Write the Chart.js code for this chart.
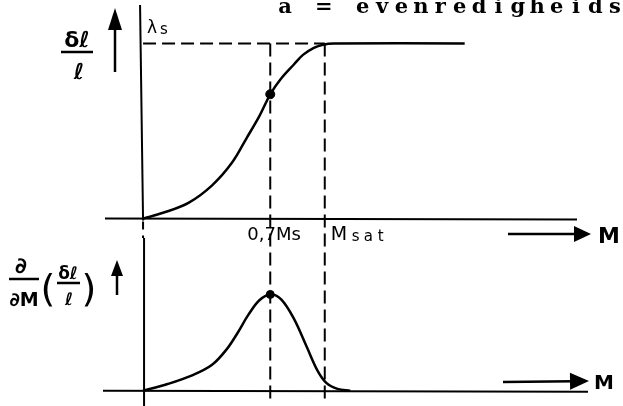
<!DOCTYPE html>
<html>
<head>
<meta charset="utf-8">
<script src="https://cdn.jsdelivr.net/npm/chart.js@4.4.1/dist/chart.umd.min.js"></script>
<style>
  html, body { margin: 0; padding: 0; background: #fff; }
  #wrap { width: 623px; height: 406px; }
</style>
</head>
<body>
<div id="wrap"><canvas id="grafiek" width="623" height="406"></canvas></div>
<script>
// M uitgedrukt in Ms; rek genormeerd op lambda_s, afgeleide genormeerd op het maximum
var mRek = [0, 0.11, 0.25, 0.38, 0.49, 0.57, 0.64, 0.7, 0.76, 0.83, 0.88, 0.94, 0.99, 1.05, 1.77];
var rek = [0, 0.033, 0.09, 0.19, 0.32, 0.46, 0.585, 0.71, 0.8, 0.88, 0.935, 0.975, 0.993, 1.0, 1.0];
var mAfgeleide = [0, 0.135, 0.27, 0.38, 0.46, 0.52, 0.58, 0.64, 0.7, 0.76, 0.83, 0.9, 0.96, 1.01, 1.07, 1.14];
var afgeleide = [0, 0.07, 0.16, 0.27, 0.43, 0.6, 0.79, 0.94, 1.0, 0.95, 0.75, 0.46, 0.21, 0.08, 0.02, 0];
var lambdaS = 1.0;
var mKnik = 0.7;
var mSat = 1.0;
var puntRek = 0.71;
var puntAfgeleide = 1.0;
var tickLabels = ['0,7Ms', 'M', 'sat'];
var titel = 'a = evenredigheids';

var xMin = -0.757, xMax = 2.611;
var yMin = -1.039, yMax = 1.217;
var y2Min = -0.101, y2Max = 4.0;

function punten(xs, ys) {
  return xs.map(function(x, i) { return { x: x, y: ys[i] }; });
}

function pijl(ctx, x1, y1, x2, y2, kop, breed) {
  var hoek = Math.atan2(y2 - y1, x2 - x1);
  ctx.beginPath();
  ctx.moveTo(x1, y1);
  ctx.lineTo(x2 - Math.cos(hoek) * kop * 0.8, y2 - Math.sin(hoek) * kop * 0.8);
  ctx.stroke();
  ctx.beginPath();
  ctx.moveTo(x2, y2);
  ctx.lineTo(x2 - Math.cos(hoek) * kop - Math.sin(hoek) * breed / 2, y2 - Math.sin(hoek) * kop + Math.cos(hoek) * breed / 2);
  ctx.lineTo(x2 - Math.cos(hoek) * kop + Math.sin(hoek) * breed / 2, y2 - Math.sin(hoek) * kop - Math.cos(hoek) * breed / 2);
  ctx.closePath();
  ctx.fill();
}

function lijn(ctx, x1, y1, x2, y2) {
  ctx.beginPath();
  ctx.moveTo(x1, y1);
  ctx.lineTo(x2, y2);
  ctx.stroke();
}

// tekst letter voor letter op vaste afstand
function spatieer(ctx, tekst, x, y, stap) {
  for (var i = 0; i < tekst.length; i++) {
    ctx.fillText(tekst[i], x + i * stap, y);
  }
}

var assenPlugin = {
  id: 'assen',
  beforeDatasetsDraw: function(chart) {
    var ctx = chart.ctx;
    var sx = chart.scales.x, sy = chart.scales.y, sy2 = chart.scales.y2;
    var x0 = sx.getPixelForValue(0);
    var yBoven = sy.getPixelForValue(0);
    var yOnder = sy2.getPixelForValue(0);
    ctx.save();
    ctx.strokeStyle = '#000';
    ctx.fillStyle = '#000';
    ctx.lineWidth = 2;
    // bovenste grafiek
    lijn(ctx, x0 - 3, 5, x0, yBoven + 2);
    lijn(ctx, 105, yBoven, 577, yBoven + 1);
    // onderste grafiek
    ctx.setLineDash([8, 6]);
    lijn(ctx, x0, yBoven + 3, x0, 238);
    ctx.setLineDash([]);
    lijn(ctx, x0 + 1, 238, x0 + 1, 406);
    lijn(ctx, 103, yOnder, 588, yOnder + 1);
    ctx.restore();
  },
  afterDatasetsDraw: function(chart) {
    var ctx = chart.ctx;
    var sx = chart.scales.x;
    ctx.save();
    ctx.strokeStyle = '#000';
    ctx.fillStyle = '#000';
    ctx.lineWidth = 2.5;

    // pijlen
    pijl(ctx, 115, 72, 115, 8, 22, 14);
    pijl(ctx, 117, 295, 117, 260, 16, 12);
    pijl(ctx, 508, 234, 591, 234, 17, 16);
    pijl(ctx, 503, 382, 589, 381, 19, 17);

    // titel in typemachineletter
    ctx.font = 'bold 21px "DejaVu Serif"';
    ctx.textAlign = 'center';
    ctx.textBaseline = 'alphabetic';
    spatieer(ctx, titel, 285, 13, 19.4);

    // as-labels
    ctx.textAlign = 'left';
    ctx.font = '17px "DejaVu Sans"';
    ctx.fillText('λ', 147, 33);
    ctx.font = '15px "DejaVu Sans"';
    ctx.fillText('s', 160, 34);

    ctx.font = '18px "DejaVu Sans"';
    ctx.fillText(tickLabels[0], sx.getPixelForValue(mKnik) - 23, 240);
    var xs = sx.getPixelForValue(mSat) + 6;
    ctx.font = '19px "DejaVu Sans"';
    ctx.fillText(tickLabels[1], xs, 240);
    ctx.font = '15px "DejaVu Sans"';
    ctx.textAlign = 'center';
    spatieer(ctx, tickLabels[2], xs + 25, 241, 12.5);
    ctx.textAlign = 'left';

    ctx.font = 'bold 22px "DejaVu Sans"';
    ctx.fillText('M', 598, 243);
    ctx.font = 'bold 20px "DejaVu Sans"';
    ctx.fillText('M', 594, 389);

    // δl / l
    ctx.textAlign = 'center';
    ctx.font = 'bold 22px "DejaVu Sans"';
    ctx.fillText('δℓ', 77, 47);
    lijn(ctx, 61, 52, 93, 52);
    ctx.fillText('ℓ', 79, 79);

    // ∂/∂M (δl/l)
    ctx.font = 'bold 22px "DejaVu Sans"';
    ctx.fillText('∂', 21, 273);
    lijn(ctx, 9, 279, 39, 279);
    ctx.font = 'bold 19px "DejaVu Sans"';
    ctx.fillText('∂M', 24, 306);
    ctx.font = '38px "DejaVu Sans"';
    ctx.fillText('(', 48, 301);
    ctx.fillText(')', 89, 301);
    ctx.font = 'bold 17px "DejaVu Sans"';
    ctx.fillText('δℓ', 68, 279);
    lijn(ctx, 57, 283, 80, 283);
    ctx.fillText('ℓ', 69, 305);
    ctx.restore();
  }
};

var streep = {
  showLine: true,
  borderColor: '#000',
  borderWidth: 2,
  borderDash: [13, 6],
  pointRadius: 0,
  yAxisID: 'y'
};

var ctx = document.getElementById('grafiek').getContext('2d');
var grafiek = new Chart(ctx, {
  type: 'scatter',
  data: {
    datasets: [
      // verzadigingsniveau lambda_s en de twee hulplijnen
      Object.assign({ data: [{ x: 0, y: lambdaS }, { x: mSat, y: lambdaS }] }, streep),
      Object.assign({ data: [{ x: mKnik, y: lambdaS }, { x: mKnik, y: yMin }] }, streep),
      Object.assign({ data: [{ x: mSat, y: lambdaS }, { x: mSat, y: yMin }] }, streep),
      {
        // magnetostrictie
        data: punten(mRek, rek),
        showLine: true,
        borderColor: '#000',
        borderWidth: 2.5,
        pointRadius: 0,
        tension: 0.35,
        yAxisID: 'y'
      },
      {
        data: [{ x: mKnik, y: puntRek }],
        pointRadius: 4.5,
        pointBackgroundColor: '#000',
        pointBorderColor: '#000',
        yAxisID: 'y'
      },
      {
        // afgeleide naar M
        data: punten(mAfgeleide, afgeleide),
        showLine: true,
        borderColor: '#000',
        borderWidth: 2.5,
        pointRadius: 0,
        tension: 0.35,
        yAxisID: 'y2'
      },
      {
        data: [{ x: mKnik, y: puntAfgeleide }],
        pointRadius: 4,
        pointBackgroundColor: '#000',
        pointBorderColor: '#000',
        yAxisID: 'y2'
      }
    ]
  },
  options: {
    responsive: false,
    animation: false,
    layout: { padding: 0 },
    scales: {
      x: { type: 'linear', min: xMin, max: xMax, display: false },
      y: { type: 'linear', min: yMin, max: yMax, display: false },
      y2: { type: 'linear', min: y2Min, max: y2Max, display: false }
    },
    plugins: {
      legend: { display: false },
      tooltip: { enabled: false }
    }
  },
  plugins: [assenPlugin]
});
</script>
</body>
</html>
